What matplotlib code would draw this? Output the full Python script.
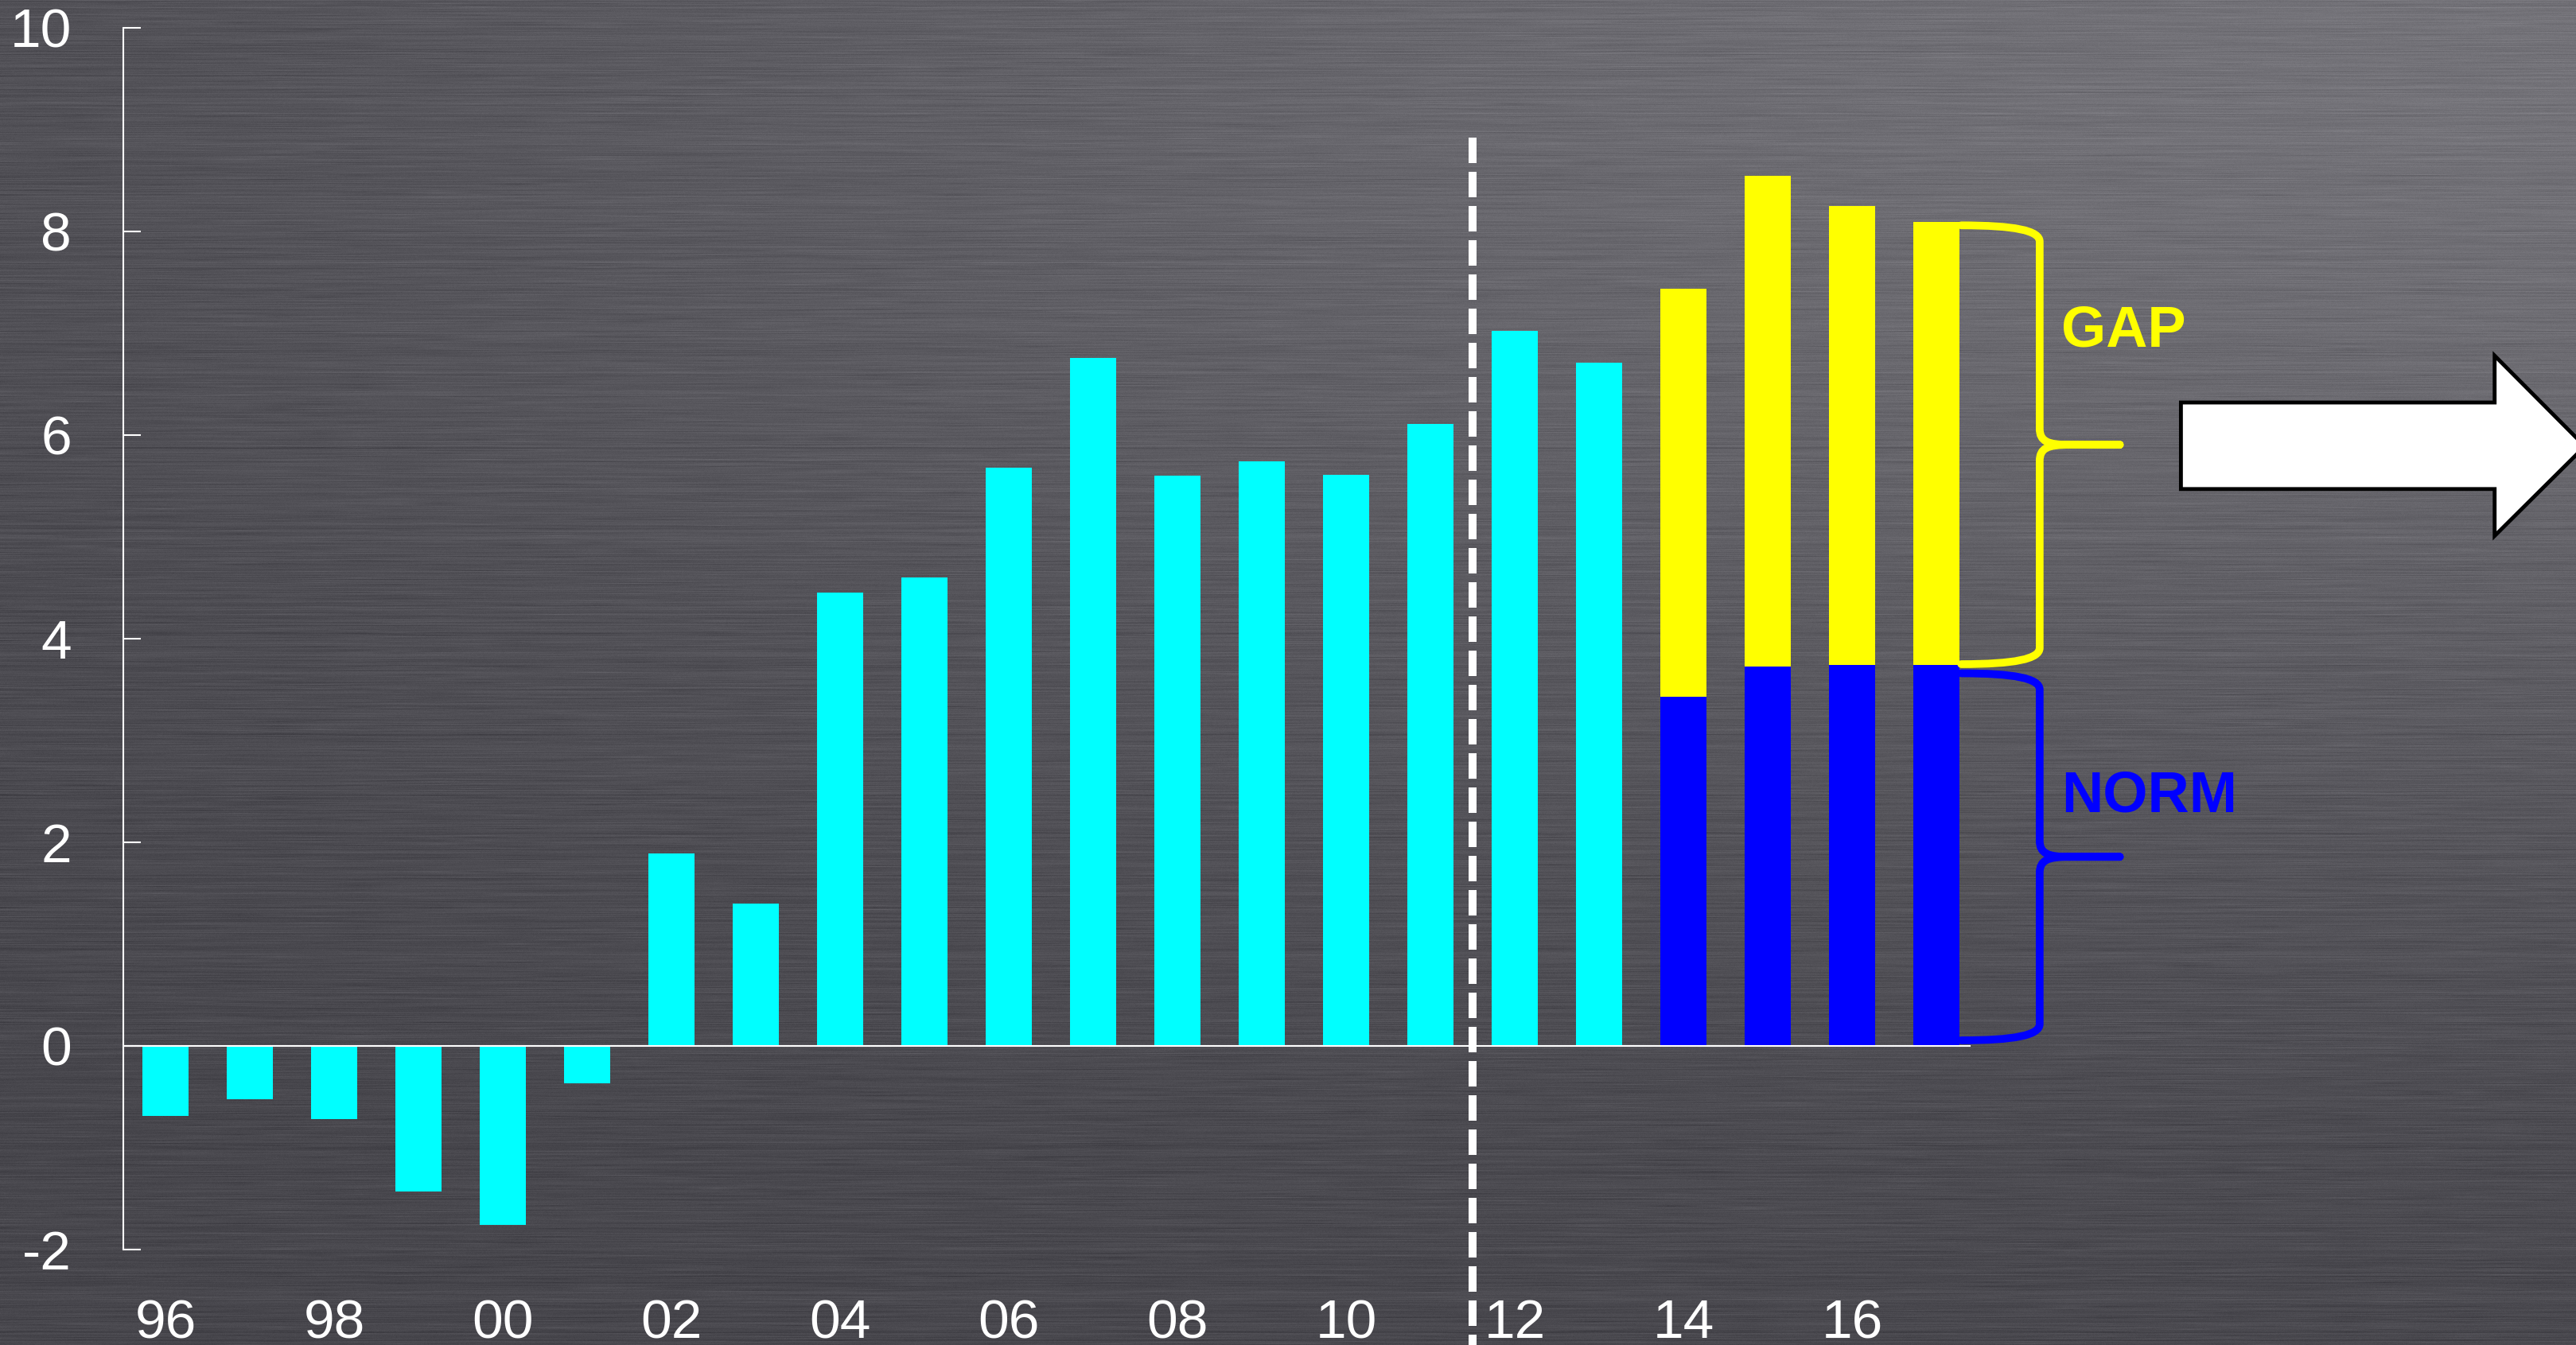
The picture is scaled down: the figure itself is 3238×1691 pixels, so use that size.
import matplotlib
matplotlib.use('Agg')
import matplotlib.pyplot as plt
from matplotlib.path import Path
from matplotlib.patches import PathPatch, Polygon
import numpy as np

plt.rcParams['font.family'] = ['Liberation Sans', 'DejaVu Sans']

# data
years = ['96', '97', '98', '99', '00', '01', '02', '03', '04', '05', '06',
         '07', '08', '09', '10', '11', '12', '13', '14', '15', '16', '17']
actual = [-0.69, -0.52, -0.72, -1.43, -1.76, -0.37, 1.89, 1.40, 4.45, 4.60,
          5.68, 6.76, 5.60, 5.74, 5.61, 6.11, 7.02, 6.71]
norm = [3.43, 3.73, 3.74, 3.74]
gap = [4.01, 4.82, 4.51, 4.35]
yticks = [-2, 0, 2, 4, 6, 8, 10]
xtick_labels = ['96', '98', '00', '02', '04', '06', '08', '10', '12', '14', '16']

W, H = 3238, 1691
fig = plt.figure(figsize=(W / 100, H / 100), dpi=100)

# brushed metal background
yy, xx = np.mgrid[0:H, 0:W].astype(np.float32)
g = np.exp(-((W - xx) / 2750.0) ** 2 - (yy / 1050.0) ** 2)
v = 70 + 46 * g
rng = np.random.default_rng(3)
v += rng.normal(0, 3.0, size=(H, 1)).astype(np.float32)
step = 50
coarse = rng.normal(0, 3.5, size=(H, W // step + 2)).astype(np.float32)
idx = np.arange(W) / step
i0 = idx.astype(int)
f = (idx - i0).astype(np.float32)
v += coarse[:, i0] * (1 - f) + coarse[:, i0 + 1] * f
v += rng.normal(0, 1.5, size=(H, W)).astype(np.float32)
bg = np.clip(np.dstack([v, v - 1, v + 5]) / 255.0, 0, 1)
bgax = fig.add_axes([0, 0, 1, 1], zorder=-1)
bgax.imshow(bg, aspect='auto', interpolation='nearest')
bgax.axis('off')

ax = fig.add_axes([155 / W, 1 - 1571 / H, 1 - 155 / W, (1571 - 35) / H])
ax.patch.set_alpha(0)

x = np.arange(len(years))
n_act = len(actual)
bw = 0.55
ax.bar(x[:n_act], actual, width=bw, color='#00ffff', zorder=2)
ax.bar(x[n_act:], norm, width=bw, color='#0000ff', zorder=2)
ax.bar(x[n_act:], gap, width=bw, bottom=norm, color='#ffff00', zorder=2)

ax.set_xlim(-0.5, -0.5 + (W - 155) / 106.0)
ax.set_ylim(-2, 10)

# zero line
ax.plot([-0.5, x[-1] + 0.4], [0, 0], color='white', lw=1.5, zorder=3)

# forecast divider
ax.plot([15.5, 15.5], [8.92, -3.3], color='white', lw=7.2,
        linestyle=(0, (3.2, 1.1)), clip_on=False, zorder=4)

for s in ['top', 'right', 'bottom']:
    ax.spines[s].set_visible(False)
ax.spines['left'].set_color('white')
ax.spines['left'].set_linewidth(1.5)

ax.set_yticks(yticks)
ax.set_yticklabels([str(t) for t in yticks])
ax.tick_params(axis='y', direction='in', length=16, width=1.5, color='white',
               labelcolor='white', labelsize=50, pad=47)
ax.set_xticks(x[::2])
ax.set_xticklabels(xtick_labels)
ax.tick_params(axis='x', length=0, labelcolor='white', labelsize=50, pad=44)


def brace(ylo, yhi, x0, x1, xt, color):
    ym = (ylo + yhi) / 2
    r = 0.16
    verts = [(x0, yhi), (x1 - 0.3, yhi), (x1, yhi - 0.05), (x1, yhi - r),
             (x1, ym + r), (x1, ym + 0.03), (x1 + 0.1, ym), (x1 + 0.35, ym),
             (xt, ym),
             (xt, ym), (x1 + 0.35, ym),
             (x1 + 0.1, ym), (x1, ym - 0.03), (x1, ym - r),
             (x1, ylo + r), (x1, ylo + 0.05), (x1 - 0.3, ylo), (x0, ylo)]
    codes = [Path.MOVETO, Path.CURVE4, Path.CURVE4, Path.CURVE4,
             Path.LINETO, Path.CURVE4, Path.CURVE4, Path.CURVE4,
             Path.LINETO,
             Path.MOVETO, Path.LINETO,
             Path.CURVE4, Path.CURVE4, Path.CURVE4,
             Path.LINETO, Path.CURVE4, Path.CURVE4, Path.CURVE4]
    p = PathPatch(Path(verts, codes), fill=False, edgecolor=color, lw=7,
                  capstyle='round', joinstyle='round', zorder=3)
    ax.add_patch(p)


edge = x[-1] + bw / 2 + 0.02
brace(norm[-1] + 0.01, norm[-1] + gap[-1] - 0.03, edge, edge + 0.93, edge + 1.88, '#ffff00')
brace(0.055, norm[-1] - 0.08, edge, edge + 0.93, edge + 1.88, '#0000ff')

ax.text(22.48, 7.02, 'GAP', color='#ffff00', fontsize=52, fontweight='bold',
        ha='left', va='center')
ax.text(22.48, 2.45, 'NORM', color='#0000ff', fontsize=52, fontweight='bold',
        ha='left', va='center')

# big white arrow on the right
arrow = Polygon([(23.9, 6.32), (27.62, 6.32), (27.62, 6.78), (28.69, 5.89),
                 (27.62, 5.01), (27.62, 5.47), (23.9, 5.47)], closed=True,
                facecolor='white', edgecolor='black', lw=3.5, zorder=3)
ax.add_patch(arrow)

fig.savefig('out.png', dpi=100)
